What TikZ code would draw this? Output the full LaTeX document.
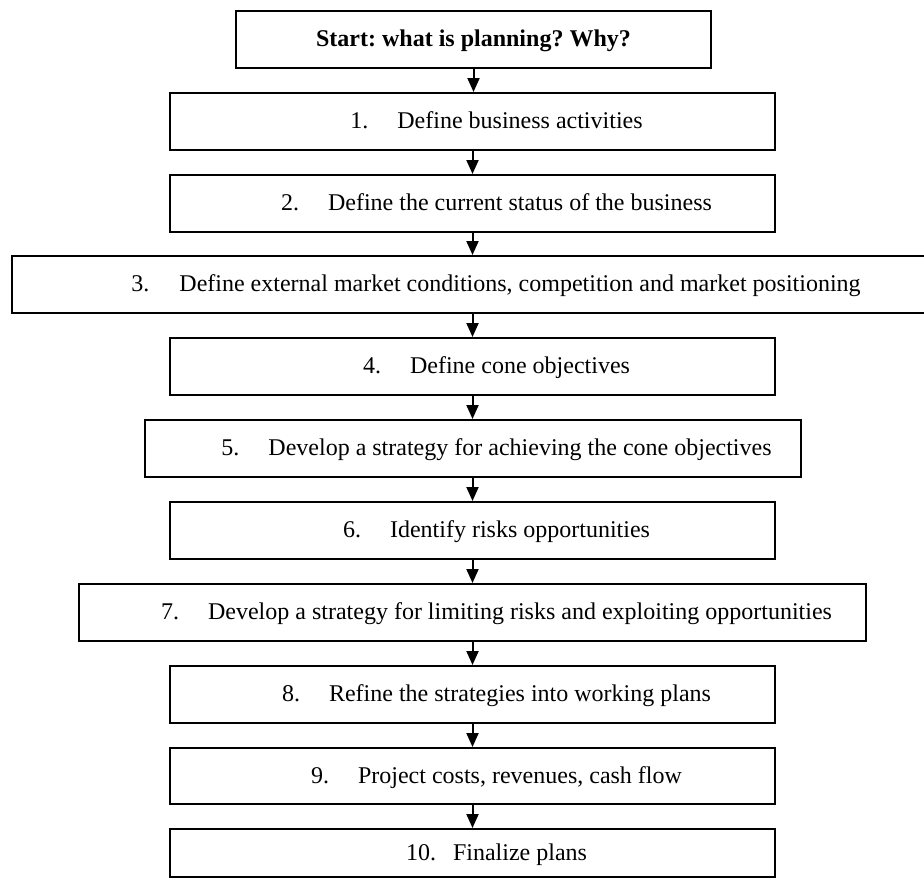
\documentclass[tikz,border=0pt]{standalone}
\usepackage{fontspec}
\setmainfont{Liberation Serif}
\usetikzlibrary{arrows.meta}
\frenchspacing
\begin{document}
\begin{tikzpicture}[x=0.5pt,y=-0.5pt,
  box/.style={draw, line width=1pt, inner sep=0pt, minimum height=28.5pt},
  stdbox/.style={box, minimum width=302.5pt},
  txt/.style={anchor=base, inner sep=0pt, font=\fontsize{12pt}{14pt}\selectfont\frenchspacing},
  num/.style={anchor=base west, inner sep=0pt, font=\fontsize{12pt}{14pt}\selectfont},
  ttl/.style={anchor=base, inner sep=0pt, font=\fontsize{12pt}{14pt}\selectfont\bfseries\frenchspacing},
  arr/.style={line width=1pt, -{Triangle[width=6pt,length=7pt]}}]
\useasboundingbox (0,0) rectangle (924,879);
% boxes
\node[box, minimum width=237.5pt] (b0) at (473.5,39.5) {};
\node[stdbox] (b1) at (472.5,121.5) {};
\node[stdbox] (b2) at (472.5,203.5) {};
\node[box, minimum width=461pt] (b3) at (473,284.5) {};
\node[stdbox] (b4) at (472.5,366.5) {};
\node[box, minimum width=328pt] (b5) at (473,448.5) {};
\node[stdbox] (b6) at (472.5,530.5) {};
\node[box, minimum width=393.5pt] (b7) at (472.5,612.5) {};
\node[stdbox] (b8) at (472.5,694.5) {};
\node[stdbox, minimum height=28pt] (b9) at (472.5,776) {};
\node[stdbox, minimum height=24pt] (b10) at (472.5,853) {};
% texts
\node[ttl] (t0) at (473.5,46.5) {Start: what is planning? Why?};
\node[txt] (t1) at (520,128.5) {Define business activities};
\node[num] (n1) at ([xshift=-23.5pt]t1.base west) {1.};
\node[txt] (t2) at (520,210.5) {Define the current status of the business};
\node[num] (n2) at ([xshift=-23.5pt]t2.base west) {2.};
\node[txt] (t3) at (520,291.5) {Define external market conditions, competition and market positioning};
\node[num] (n3) at ([xshift=-24pt]t3.base west) {3.};
\node[txt] (t4) at (520,373.5) {Define cone objectives};
\node[num] (n4) at ([xshift=-23.5pt]t4.base west) {4.};
\node[txt] (t5) at (520,455.5) {Develop a strategy for achieving the cone objectives};
\node[num] (n5) at ([xshift=-23.5pt]t5.base west) {5.};
\node[txt] (t6) at (520,537.5) {Identify risks opportunities};
\node[num] (n6) at ([xshift=-23.5pt]t6.base west) {6.};
\node[txt] (t7) at (520,619.5) {Develop a strategy for limiting risks and exploiting opportunities};
\node[num] (n7) at ([xshift=-23.5pt]t7.base west) {7.};
\node[txt] (t8) at (520,701.5) {Refine the strategies into working plans};
\node[num] (n8) at ([xshift=-23.5pt]t8.base west) {8.};
\node[txt] (t9) at (520,783) {Project costs, revenues, cash flow};
\node[num] (n9) at ([xshift=-23.5pt]t9.base west) {9.};
\node[txt] (t10) at (520,860) {Finalize plans};
\node[num] (n10) at ([xshift=-23.5pt]t10.base west) {10.};
% arrows
\draw[arr] (b0.south) -- (b0.south |- b1.north);
\draw[arr] (b1.south) -- (b1.south |- b2.north);
\draw[arr] (b2.south) -- (b2.south |- b3.north);
\draw[arr] (b2.south |- b3.south) -- (b2.south |- b4.north);
\draw[arr] (b4.south) -- (b4.south |- b5.north);
\draw[arr] (b4.south |- b5.south) -- (b4.south |- b6.north);
\draw[arr] (b6.south) -- (b6.south |- b7.north);
\draw[arr] (b7.south) -- (b7.south |- b8.north);
\draw[arr] (b8.south) -- (b8.south |- b9.north);
\draw[arr] (b9.south) -- (b9.south |- b10.north);
\end{tikzpicture}
\end{document}
